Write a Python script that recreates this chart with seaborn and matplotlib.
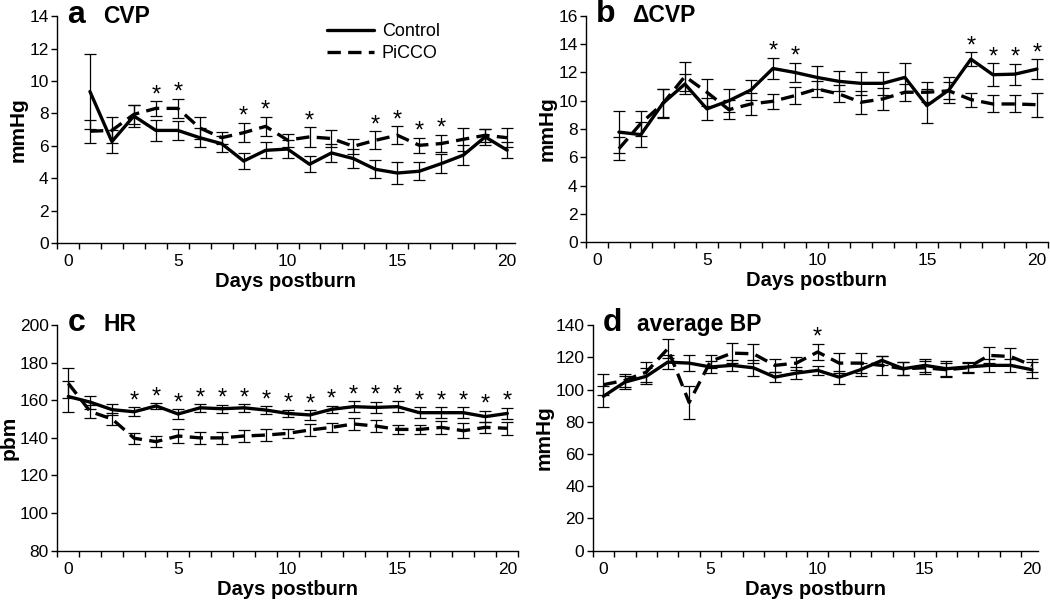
#--------------------------------------------------------
# CVP, delta CVP, HR and average BP over the days
# postburn, Control vs PiCCO group (mean +/- error bars).
# Values.
#--------------------------------------------------------

import numpy as np
import pandas as pd
import seaborn as sns
import matplotlib
matplotlib.use("Agg")
import matplotlib.pyplot as plt
from matplotlib.lines import Line2D
from matplotlib.ticker import FixedLocator, MultipleLocator

# ---- data ----

days_ab = list(range(1, 21))
days_cd = list(range(0, 21))

# a  CVP
cvp_ctrl = [9.35, 6.26, 7.84, 6.95, 6.95, 6.5, 6.13, 5.06, 5.72, 5.8,
            4.86, 5.56, 5.21, 4.55, 4.32, 4.43, 4.9, 5.42, 6.55, 5.73]
cvp_ctrl_err = [2.3, 0.7, 0.7, 0.65, 0.6, 0.6, 0.5, 0.5, 0.5, 0.55,
                0.5, 0.55, 0.6, 0.55, 0.65, 0.55, 0.6, 0.6, 0.5, 0.5]
cvp_picco = [6.9, 6.95, 7.94, 8.31, 8.31, 7.1, 6.5, 6.81, 7.2, 6.35,
             6.55, 6.45, 5.97, 6.34, 6.65, 6.03, 6.14, 6.4, 6.65, 6.5]
cvp_picco_err = [0.7, 0.8, 0.6, 0.45, 0.6, 0.7, 0.37, 0.6, 0.6, 0.4,
                 0.6, 0.5, 0.45, 0.55, 0.55, 0.45, 0.55, 0.7, 0.4, 0.6]
cvp_stars = [4, 5, 8, 9, 11, 14, 15, 16, 17]

# b  delta CVP
dcvp_ctrl = [7.78, 7.6, 9.82, 11.18, 9.42, 10.0, 10.76, 12.28, 12.0, 11.65,
             11.37, 11.23, 11.23, 11.65, 9.65, 10.76, 12.94, 11.84, 11.88, 12.24]
dcvp_ctrl_err = [1.5, 0.9, 1.0, 0.7, 0.8, 0.8, 0.7, 0.75, 0.7, 0.8,
                 0.7, 0.8, 0.8, 1.0, 1.2, 0.9, 0.5, 0.8, 0.75, 0.7]
dcvp_picco = [6.6, 8.4, 9.8, 11.72, 10.6, 9.37, 9.77, 9.96, 10.36, 10.83,
              10.48, 9.89, 10.13, 10.6, 10.6, 10.7, 10.08, 9.77, 9.77, 9.72]
dcvp_picco_err = [0.8, 0.9, 1.0, 1.0, 0.95, 0.65, 0.75, 0.55, 0.6, 0.6,
                  0.6, 0.8, 0.8, 0.6, 0.7, 0.6, 0.5, 0.6, 0.6, 0.85]
dcvp_stars = [8, 9, 17, 18, 19, 20]

# c  HR
hr_ctrl = [162, 159, 155, 153.9, 157, 152.7, 156, 155.5, 156, 154.8, 153,
           152.2, 155.2, 156.6, 156.2, 156.6, 153.4, 153.4, 153.4, 151.3, 153]
hr_ctrl_err = [8, 3.5, 3, 2.5, 1.5, 2.5, 2, 2, 2, 2, 2,
               2.5, 2, 3, 3, 3, 3, 3, 3, 3, 3]
hr_picco = [169, 154, 150, 139.8, 138, 141, 140, 140, 141, 141.5, 142.4,
            144.2, 145.6, 147.4, 146.3, 144.5, 144.5, 145.6, 143.8, 145.6, 145.1]
hr_picco_err = [8, 3.5, 3, 3, 3, 3.5, 3, 3, 3, 3, 2.5,
                3, 2.5, 3, 3, 2.5, 2.5, 3.5, 4, 3, 3.5]
hr_stars = list(range(3, 21))

# d  average BP
bp_ctrl = [95.8, 104.6, 108.2, 117, 116.4, 114, 115, 113.5, 107.7, 110.2, 111.9,
           107.7, 112.3, 118.1, 112.9, 115, 112.9, 114, 115, 115, 112.3]
bp_ctrl_err = [6.5, 4, 5, 4.5, 5, 4, 3.5, 5, 3, 3.5, 3,
               4, 4, 3, 4, 4, 5, 3, 4, 4, 5]
bp_picco = [103, 105.7, 110.8, 125.3, 92, 117.5, 122.6, 122.2, 115, 116.4, 123.3,
            116.4, 116.4, 115, 112.9, 113.5, 112.3, 113.5, 121.2, 120.5, 115]
bp_picco_err = [6.5, 4, 6, 6, 10, 4, 6, 6, 4, 4, 5,
                6, 6, 6, 4, 4, 4, 3, 5, 5, 4]
bp_stars = [10]

groups = ['Control', 'PiCCO']
x_ticks = [0, 5, 10, 15, 20]

# ---- style ----

sns.set_theme(style="ticks")
plt.rcParams['font.family'] = ['Liberation Sans', 'DejaVu Sans']
for key in ['text.color', 'axes.labelcolor', 'xtick.color', 'ytick.color', 'axes.edgecolor']:
    plt.rcParams[key] = 'black'

fig = plt.figure(figsize=(10.5, 6), dpi=100)

dash = (4.0, 2.2)


def draw_panel(rect, days, ctrl, ctrl_err, picco, picco_err, stars,
               ylim, ystep, letter, name, ylabel, xmax):
    ax = fig.add_axes(rect)
    n = len(days)
    df = pd.DataFrame({'Day': days * 2,
                       'value': ctrl + picco,
                       'group': ['Control'] * n + ['PiCCO'] * n})
    sns.lineplot(data=df, x='Day', y='value', style='group', style_order=groups,
                 dashes={'Control': '', 'PiCCO': dash}, color='black',
                 linewidth=2.4, errorbar=None, legend=False, ax=ax)
    for vals, errs in [(ctrl, ctrl_err), (picco, picco_err)]:
        ax.errorbar(days, vals, yerr=errs, fmt='none', ecolor='black',
                    elinewidth=0.9, capsize=4, capthick=0.9)

    # significance stars above the higher error bar
    top = np.maximum(np.add(ctrl, ctrl_err), np.add(picco, picco_err))
    for d in stars:
        i = days.index(d)
        ax.annotate('*', (d, top[i]), xytext=(0, 0), textcoords='offset points',
                    ha='center', va='baseline', fontsize=17)

    ax.set_xlim(-0.5, xmax)
    ax.set_ylim(*ylim)
    ax.yaxis.set_major_locator(MultipleLocator(ystep))
    ax.xaxis.set_major_locator(FixedLocator(x_ticks))
    ax.xaxis.set_minor_locator(FixedLocator(np.arange(-0.5, 21, 1)))
    ax.tick_params(axis='x', which='major', length=0, pad=8, labelsize=12.5)
    ax.tick_params(axis='x', which='minor', length=4.5, width=1, direction='out')
    ax.tick_params(axis='y', length=4, width=1, pad=2, labelsize=12.5)
    for s in ['left', 'bottom']:
        ax.spines[s].set_linewidth(1)
    sns.despine(ax=ax)

    ax.set_xlabel('Days postburn', fontsize=14.5, fontweight='bold', labelpad=2)
    ax.set_ylabel(ylabel, fontsize=15, fontweight='bold', labelpad=1)
    ax.text(0.022, 0.972, letter, transform=ax.transAxes, fontsize=23,
            fontweight='bold', va='baseline')
    ax.text(0.1, 0.972, name, transform=ax.transAxes, fontsize=16.5,
            fontweight='bold', va='baseline')
    return ax


ax_a = draw_panel([0.0543, 0.595, 0.436, 0.378], days_ab, cvp_ctrl, cvp_ctrl_err,
                  cvp_picco, cvp_picco_err, cvp_stars, (0, 14), 2,
                  'a', 'CVP', 'mmHg', 20.35)
ax_b = draw_panel([0.558, 0.5965, 0.44, 0.377], days_ab, dcvp_ctrl, dcvp_ctrl_err,
                  dcvp_picco, dcvp_picco_err, dcvp_stars, (0, 16), 2,
                  'b', 'ΔCVP', 'mmHg', 20.5)
ax_c = draw_panel([0.0546, 0.0822, 0.439, 0.376], days_cd, hr_ctrl, hr_ctrl_err,
                  hr_picco, hr_picco_err, hr_stars, (80, 200), 20,
                  'c', 'HR', 'pbm', 20.5)
ax_d = draw_panel([0.5645, 0.0822, 0.4244, 0.376], days_cd, bp_ctrl, bp_ctrl_err,
                  bp_picco, bp_picco_err, bp_stars, (0, 140), 20,
                  'd', 'average BP', 'mmHg', 20.3)

# legend only in panel a
handles = [Line2D([], [], color='black', linewidth=2.4),
           Line2D([], [], color='black', linewidth=2.4, dashes=dash)]
ax_a.legend(handles, groups, loc='upper left', bbox_to_anchor=(0.575, 1.0),
            frameon=False, fontsize=13, handlelength=2.6, handletextpad=0.4,
            labelspacing=0.25, borderaxespad=0)

fig.savefig('out.png', dpi=100)
